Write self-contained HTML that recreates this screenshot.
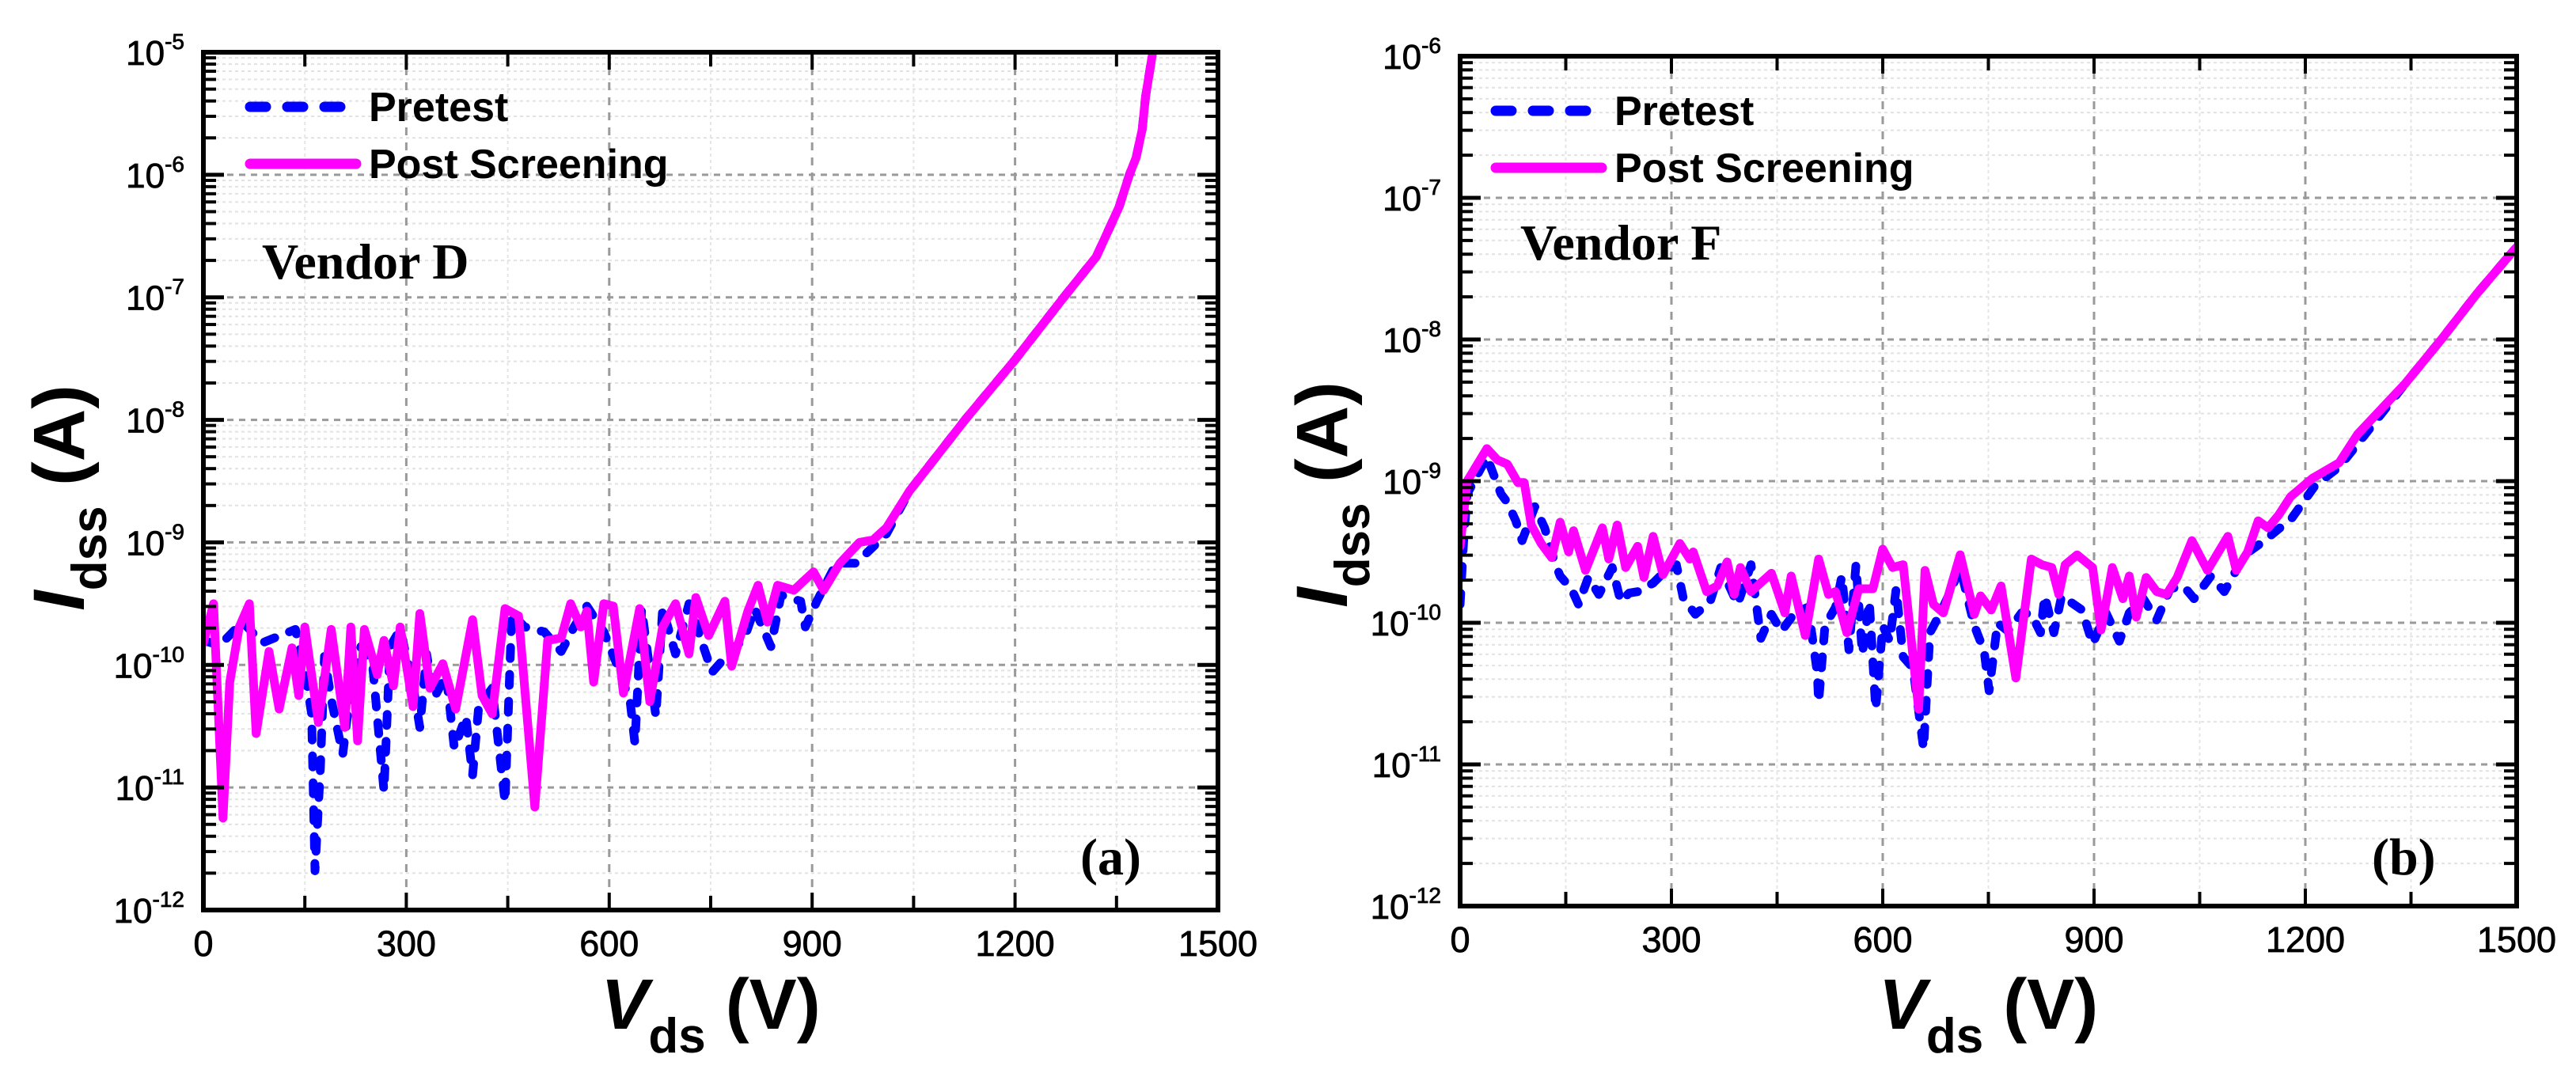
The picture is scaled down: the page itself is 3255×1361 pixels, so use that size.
<!DOCTYPE html>
<html><head><meta charset="utf-8"><style>
html,body{margin:0;padding:0;background:#fff;}
svg{display:block;}
</style></head><body>
<svg id="fig" width="3255" height="1361" viewBox="0 0 3255 1361" xmlns="http://www.w3.org/2000/svg" font-family="'Liberation Sans', Arial, sans-serif">
<rect width="3255" height="1361" fill="#fff"/>
</svg>
<script>
// ---- Panel (a) Vendor D data: Vds (V) and log10(Idss/A) ----
const dPreV = [0,24,58,87,136,150,160,165,173,179,189,206,218,233,250,267,276,291,310,320,330,341,359,371,388,398,407,427,446,456,475,504,529,548,567,592,611,631,638,648,669,679,698,718,752,776,800,815,839,854,883,890,907,936,965,1010,1044,1126,1200,1272,1320,1340,1354,1369,1379,1388,1393,1403,1412];
const dPreLog = [-9.80,-9.84,-9.65,-9.82,-9.71,-10.04,-10.40,-11.68,-10.84,-9.93,-10.28,-10.73,-10.19,-9.85,-9.99,-11.03,-9.85,-9.71,-10.17,-10.51,-9.91,-10.27,-10.08,-10.68,-10.42,-10.90,-10.34,-10.19,-11.12,-9.58,-9.69,-9.73,-9.89,-9.69,-9.52,-9.73,-9.99,-10.30,-10.64,-9.54,-10.42,-9.54,-9.91,-9.50,-10.06,-9.91,-9.78,-9.54,-9.85,-9.43,-9.48,-9.69,-9.48,-9.17,-9.17,-8.93,-8.58,-8.0,-7.51,-7.0,-6.67,-6.43,-6.26,-6.0,-5.86,-5.63,-5.36,-5.02,-4.8];
const dPostV = [0,15,29,39,53,68,78,97,112,131,141,150,170,189,209,218,228,238,257,267,281,291,310,320,335,354,373,398,412,427,446,466,490,509,529,543,558,567,577,592,606,621,645,660,679,698,718,728,747,771,781,805,820,834,849,873,902,917,941,970,990,1010,1044,1126,1200,1272,1320,1340,1354,1369,1379,1388,1393,1403,1412];
const dPostLog = [-9.82,-9.50,-11.25,-10.14,-9.69,-9.50,-10.56,-9.89,-10.36,-9.86,-10.25,-9.69,-10.47,-9.71,-10.51,-9.69,-10.62,-9.71,-10.08,-9.80,-10.17,-9.69,-10.34,-9.58,-10.19,-9.99,-10.36,-9.63,-10.25,-10.40,-9.54,-9.60,-11.16,-9.80,-9.78,-9.50,-9.69,-9.56,-10.14,-9.50,-9.52,-10.23,-9.54,-10.30,-9.69,-9.50,-9.91,-9.45,-9.76,-9.48,-10.01,-9.56,-9.35,-9.65,-9.35,-9.39,-9.24,-9.39,-9.17,-9.0,-8.98,-8.88,-8.58,-8.0,-7.51,-7.0,-6.67,-6.43,-6.26,-6.0,-5.86,-5.63,-5.36,-5.02,-4.8];
// ---- Panel (b) Vendor F data ----
const fPreV = [0,5,10,38,48,58,67,79,88,106,120,134,142,158,168,182,197,216,228,240,252,274,288,307,317,334,355,370,394,413,427,442,456,475,494,507,509,518,533,542,552,562,571,581,590,600,610,619,629,643,658,667,682,696,710,730,744,751,763,778,797,811,824,830,843,854,883,898,917,936,950,970,989,1008,1027,1042,1066,1085,1114,1142,1181,1214,1248,1277,1342,1393,1443,1496,1500];
const fPreLog = [-9.87,-9.42,-9.09,-8.83,-8.96,-9.09,-9.15,-9.28,-9.42,-9.18,-9.33,-9.57,-9.67,-9.76,-9.87,-9.68,-9.80,-9.61,-9.85,-9.79,-9.78,-9.72,-9.65,-9.59,-9.83,-9.94,-9.85,-9.61,-9.87,-9.59,-10.11,-9.94,-10.06,-9.93,-9.89,-10.35,-10.56,-10.02,-9.89,-9.67,-10.19,-9.59,-10.22,-9.85,-10.61,-10.02,-10.13,-9.76,-10.24,-10.32,-10.89,-10.07,-9.93,-9.78,-9.61,-10.02,-10.20,-10.48,-10.0,-10.06,-9.93,-9.94,-10.07,-9.81,-10.07,-9.81,-9.91,-10.15,-9.93,-10.13,-9.93,-9.83,-9.98,-9.76,-9.74,-9.83,-9.67,-9.78,-9.52,-9.42,-9.26,-9.03,-8.90,-8.72,-8.31,-8.0,-7.68,-7.37,-7.35];
const fPostV = [0,10,38,53,67,82,91,101,115,130,142,154,161,178,202,211,223,235,252,261,274,288,312,326,331,350,365,379,389,398,413,442,461,470,490,509,523,533,549,566,586,600,614,629,651,660,672,686,710,730,739,754,768,789,811,826,840,850,859,876,898,910,926,941,950,960,974,989,1003,1018,1039,1061,1090,1102,1118,1133,1147,1162,1179,1210,1248,1274,1342,1393,1443,1496,1500];
const fPostLog = [-9.46,-9.0,-8.77,-8.85,-8.88,-9.01,-9.01,-9.31,-9.44,-9.54,-9.29,-9.50,-9.35,-9.63,-9.33,-9.55,-9.31,-9.61,-9.46,-9.68,-9.39,-9.66,-9.44,-9.55,-9.50,-9.78,-9.74,-9.57,-9.80,-9.61,-9.78,-9.65,-9.93,-9.67,-10.09,-9.55,-9.80,-9.78,-10.07,-9.76,-9.76,-9.48,-9.61,-9.59,-10.61,-9.63,-9.87,-9.93,-9.52,-9.94,-9.81,-9.91,-9.74,-10.39,-9.55,-9.59,-9.61,-9.80,-9.59,-9.52,-9.61,-10.05,-9.61,-9.83,-9.67,-9.96,-9.68,-9.78,-9.80,-9.68,-9.42,-9.63,-9.39,-9.63,-9.50,-9.28,-9.33,-9.24,-9.11,-8.98,-8.87,-8.67,-8.31,-8.0,-7.68,-7.37,-7.35];
const xTicks = [0,300,600,900,1200,1500];
const xTickLabels = ['0','300','600','900','1200','1500'];
const dDecades = [-5,-6,-7,-8,-9,-10,-11,-12];
const fDecades = [-6,-7,-8,-9,-10,-11,-12];

const svg = document.getElementById('fig');
const NS = 'http://www.w3.org/2000/svg';
function mk(tag, attrs, parent){
  const e = document.createElementNS(NS, tag);
  for (const k in attrs) e.setAttribute(k, attrs[k]);
  (parent||svg).appendChild(e);
  return e;
}

function panel(cfg){
  const g = mk('g', {});
  
  
  const L=cfg.L, R=cfg.R, T=cfg.T, B=cfg.B;
  const top=cfg.top, bot=cfg.bot;
  const xs = v => L + (v/1500)*(R-L);
  const ys = lg => T + (top-lg)/(top-bot)*(B-T);
  const clipId = cfg.id+'-clip';
  const defs = mk('defs', {}, g);
  const cp = mk('clipPath', {id:clipId}, defs);
  mk('rect', {x:L, y:T, width:R-L, height:B-T}, cp);

  const grid = mk('g', {}, g);
  
  
  for (let d=top; d>bot; d--){
    for (let m=2; m<=9; m++){
      const y = ys(d-1+Math.log10(m));
      mk('line', {x1:L, x2:R, y1:y, y2:y, stroke:'#e2e2e2', 'stroke-width':2, 'stroke-dasharray':'4 4'}, grid);
    }
  }
  for (let v=150; v<1500; v+=300){
    mk('line', {x1:xs(v), x2:xs(v), y1:T, y2:B, stroke:'#e6e6e6', 'stroke-width':2, 'stroke-dasharray':'4 4'}, grid);
  }
  cfg.decades.forEach(d=>{
    if (d===top||d===bot) return;
    mk('line', {x1:L, x2:R, y1:ys(d), y2:ys(d), stroke:'#9a9a9a', 'stroke-width':3, 'stroke-dasharray':'8 7'}, grid);
  });
  xTicks.forEach(v=>{
    if (v===0||v===1500) return;
    mk('line', {x1:xs(v), x2:xs(v), y1:T, y2:B, stroke:'#9a9a9a', 'stroke-width':3, 'stroke-dasharray':'10 9'}, grid);
  });

  const pre = mk('polyline', {
    points: cfg.preV.map((v,i)=>xs(v)+','+ys(cfg.preLog[i])).join(' '),
    fill:'none', stroke:'#0000ff', 'stroke-width':11, 'stroke-dasharray':'14 20',
    'stroke-linecap':'round', 'stroke-linejoin':'round', 'clip-path':'url(#'+clipId+')'}, g);
  
  
  const post = mk('polyline', {
    points: cfg.postV.map((v,i)=>xs(v)+','+ys(cfg.postLog[i])).join(' '),
    fill:'none', stroke:'#ff00ff', 'stroke-width':11,
    'stroke-linecap':'round', 'stroke-linejoin':'round', 'clip-path':'url(#'+clipId+')'}, g);
  
  

  const ticks = mk('g', {stroke:'#000'}, g);
  
  
  for (let d=top; d>bot; d--){
    for (let m=2; m<=9; m++){
      const y = ys(d-1+Math.log10(m));
      mk('line', {x1:L, x2:L+16, y1:y, y2:y, 'stroke-width':4}, ticks);
      mk('line', {x1:R, x2:R-16, y1:y, y2:y, 'stroke-width':4}, ticks);
    }
  }
  cfg.decades.forEach(d=>{
    mk('line', {x1:L, x2:L+26, y1:ys(d), y2:ys(d), 'stroke-width':5}, ticks);
    mk('line', {x1:R, x2:R-26, y1:ys(d), y2:ys(d), 'stroke-width':5}, ticks);
  });
  for (let v=150; v<1500; v+=150){
    const len = (v%300===0)?22:18;
    mk('line', {x1:xs(v), x2:xs(v), y1:B, y2:B-len, 'stroke-width':4}, ticks);
    mk('line', {x1:xs(v), x2:xs(v), y1:T, y2:T+len, 'stroke-width':4}, ticks);
  }
  const fr = mk('rect', {x:L, y:T, width:R-L, height:B-T, fill:'none', stroke:'#000', 'stroke-width':6}, g);
  
  

  cfg.decades.forEach(d=>{
    const t = mk('text', {x:cfg.ylabX, y:ys(d)+16, 'text-anchor':'end', 'font-size':44, fill:'#000', stroke:'#000', 'stroke-width':0.8}, g);
    
    
    const a = mk('tspan', {}, t); a.textContent = '10';
    const b = mk('tspan', {'font-size':28, dy:-20}, t); b.textContent = String(d);
  });
  xTicks.forEach((v,i)=>{
    const t = mk('text', {x:xs(v), y:B+58, 'text-anchor':'middle', 'font-size':45, fill:'#000', stroke:'#000', 'stroke-width':0.8}, g);
    
    
    t.textContent = xTickLabels[i];
  });

  const xt = mk('text', {x:(L+R)/2, y:1300, 'text-anchor':'middle', 'font-size':90, 'font-weight':'bold', fill:'#000'}, g);
  
  
  const x1 = mk('tspan', {'font-style':'italic'}, xt); x1.textContent='V';
  const x2 = mk('tspan', {'font-size':62, dy:30}, xt); x2.textContent='ds';
  const x3 = mk('tspan', {dy:-30}, xt); x3.textContent=' (V)';

  const yt = mk('text', {x:0, y:0, 'text-anchor':'middle', 'font-size':92, 'font-weight':'bold', fill:'#000',
    transform:'translate('+cfg.ytitleX+','+cfg.ytitleY+') rotate(-90)'}, g);
  
  
  const y1 = mk('tspan', {'font-style':'italic'}, yt); y1.textContent='I';
  const y2 = mk('tspan', {'font-size':62, dy:28}, yt); y2.textContent='dss';
  const y3 = mk('tspan', {dy:-28}, yt); y3.textContent=' (A)';

  const lg = mk('g', {}, g);
  
  
  const lp = mk('line', {x1:cfg.legX, x2:cfg.legX+118, y1:cfg.legY, y2:cfg.legY, stroke:'#0000ff', 'stroke-width':13, 'stroke-linecap':'round', 'stroke-dasharray':'20 27'}, lg);
  
  
  const lt1 = mk('text', {x:cfg.legX+150, y:cfg.legY+18, 'font-size':52, 'font-weight':'bold', fill:'#000'}, lg);
  
  
  lt1.textContent='Pretest';
  const lq = mk('line', {x1:cfg.legX, x2:cfg.legX+134, y1:cfg.legY+72, y2:cfg.legY+72, stroke:'#ff00ff', 'stroke-width':13, 'stroke-linecap':'round'}, lg);
  
  
  const lt2 = mk('text', {x:cfg.legX+150, y:cfg.legY+90, 'font-size':52, 'font-weight':'bold', fill:'#000'}, lg);
  
  
  lt2.textContent='Post Screening';

  const vt = mk('text', {x:cfg.vendX, y:cfg.vendY, 'font-size':64, 'font-weight':'bold', 'font-family':"'Liberation Serif', 'Times New Roman', serif", fill:'#000'}, g);
  
  
  vt.textContent = cfg.vendor;
  const pt = mk('text', {x:cfg.tagX, y:1105, 'font-size':66, 'font-weight':'bold', 'font-family':"'Liberation Serif', 'Times New Roman', serif", fill:'#000'}, g);
  
  
  pt.textContent = cfg.tag;
}

panel({id:'vendor-d', L:257, R:1539, T:66, B:1150, top:-5, bot:-12, decades:dDecades,
  preV:dPreV, preLog:dPreLog, postV:dPostV, postLog:dPostLog,
  ylabX:233, ytitleX:106, ytitleY:629, legX:316, legY:135, vendX:331, vendY:352,
  vendor:'Vendor D', tagX:1365, tag:'(a)'});
panel({id:'vendor-f', L:1845, R:3180, T:71, B:1145, top:-6, bot:-12, decades:fDecades,
  preV:fPreV, preLog:fPreLog, postV:fPostV, postLog:fPostLog,
  ylabX:1821, ytitleX:1702, ytitleY:625, legX:1890, legY:140, vendX:1921, vendY:328,
  vendor:'Vendor F', tagX:2997, tag:'(b)'});
</script>
</body></html>
